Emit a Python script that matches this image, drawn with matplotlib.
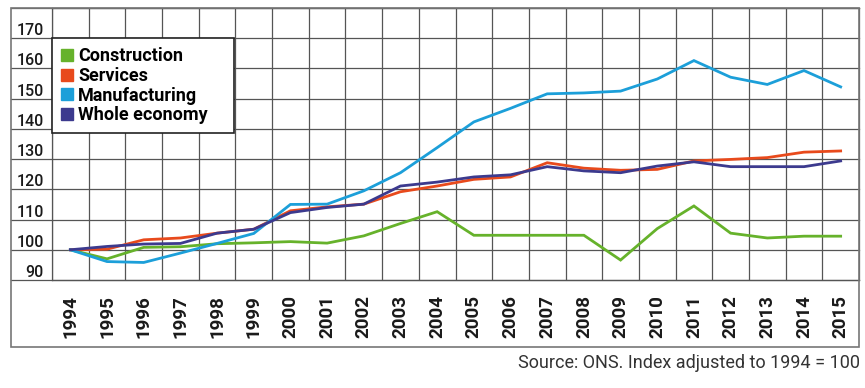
import matplotlib
matplotlib.use("Agg")
import matplotlib.pyplot as plt
from matplotlib.lines import Line2D
from matplotlib.patches import Rectangle

years = list(range(1994, 2016))
construction = [100, 97, 100.8, 101, 102, 102.3, 102.7, 102.2, 104.6, 108.7, 112.6,
                104.8, 104.8, 104.8, 104.8, 96.6, 107, 114.5, 105.5, 103.9, 104.5, 104.5]
services = [100, 100.2, 103.3, 103.9, 105.5, 106.8, 112.9, 114.2, 115.1, 119.2, 121.1,
            123.3, 124.1, 128.8, 127, 126.3, 126.6, 129.4, 129.9, 130.5, 132.3, 132.7]
manufacturing = [100, 96.1, 95.8, 98.9, 102.1, 105.4, 115, 115.1, 119.5, 125.5, 133.8,
                 142.3, 146.8, 151.6, 151.9, 152.5, 156.5, 162.6, 157.1, 154.7, 159.3, 153.9]
whole_economy = [100, 101.1, 101.9, 102.1, 105.5, 106.8, 112.3, 114, 115.1, 121.1, 122.4,
                 124.1, 124.8, 127.5, 126.1, 125.5, 127.7, 129.1, 127.5, 127.5, 127.5, 129.4]

series_names = ["Construction", "Services", "Manufacturing", "Whole economy"]
colors = ["#66b22b", "#e84a1c", "#1c9fd9", "#3c3a8e"]
y_ticks = list(range(90, 180, 10))

plt.rcParams['font.family'] = ['Roboto', 'DejaVu Sans']

W, H = 865, 388
fig = plt.figure(figsize=(W / 100, H / 100), dpi=100)
left, right, top, bottom = 52, 859, 8, 280
ax = fig.add_axes([left / W, 1 - bottom / H, (right - left) / W, (bottom - top) / H])

grid_c = "#555555"
ax.set_xlim(years[0] - 0.5, years[-1] + 0.5)
ax.set_ylim(90, 180)

# vertical grid at cell edges, points at cell centres
for x in range(years[0], years[-1] + 1):
    ax.axvline(x - 0.5, color=grid_c, lw=0.9, zorder=1)
# horizontal grid, extended into the label column
ext = -(left - 11) / (right - left)
for y in range(90, 181, 10):
    ax.axhline(y, xmin=ext, xmax=1, color=grid_c, lw=0.9, zorder=1, clip_on=False)

data = [construction, services, manufacturing, whole_economy]
for name, vals, c in zip(series_names, data, colors):
    ax.plot(years, vals, color=c, lw=2.0, zorder=3, solid_joinstyle='miter')

for s in ax.spines.values():
    s.set_color(grid_c)
    s.set_linewidth(0.9)

ax.set_xticks(years)
ax.set_xticklabels([str(y) for y in years], rotation=90, fontsize=13.5,
                   fontweight='bold', color="#1a1a1a")
ax.set_yticks(y_ticks)
ax.set_yticklabels([str(y) for y in y_ticks], fontsize=11.5, fontweight='medium',
                   color="#1a1a1a", va='bottom')
ax.tick_params(axis='x', length=0, pad=11)
ax.tick_params(axis='y', length=0, pad=6)

handles = [Line2D([], [], ls='none', marker='s', markersize=8, color=c) for c in colors]
leg = ax.legend(handles, series_names, loc='upper left',
                bbox_to_anchor=(years[0] - 0.5, 140, 4.95, 30),
                bbox_transform=ax.transData, mode='expand', borderaxespad=0,
                fancybox=False, framealpha=1, edgecolor="#222222",
                prop={'family': 'Roboto', 'weight': 'bold', 'size': 13},
                handlelength=0.65, handletextpad=0.3, labelspacing=0.09,
                borderpad=0.5)
leg.get_frame().set_linewidth(1.2)
leg.set_zorder(5)

# outer frame round plot and label band
fig.add_artist(Rectangle((11 / W, 1 - 347 / H), (right - 11) / W, (347 - 8) / H,
                         transform=fig.transFigure, fill=False,
                         edgecolor="#777777", lw=1.2))

fig.text(860 / W, 1 - 363 / H, "Source: ONS. Index adjusted to 1994 = 100",
         ha='right', va='center', fontsize=13, color="#333333")

fig.savefig("out.png", dpi=100)
